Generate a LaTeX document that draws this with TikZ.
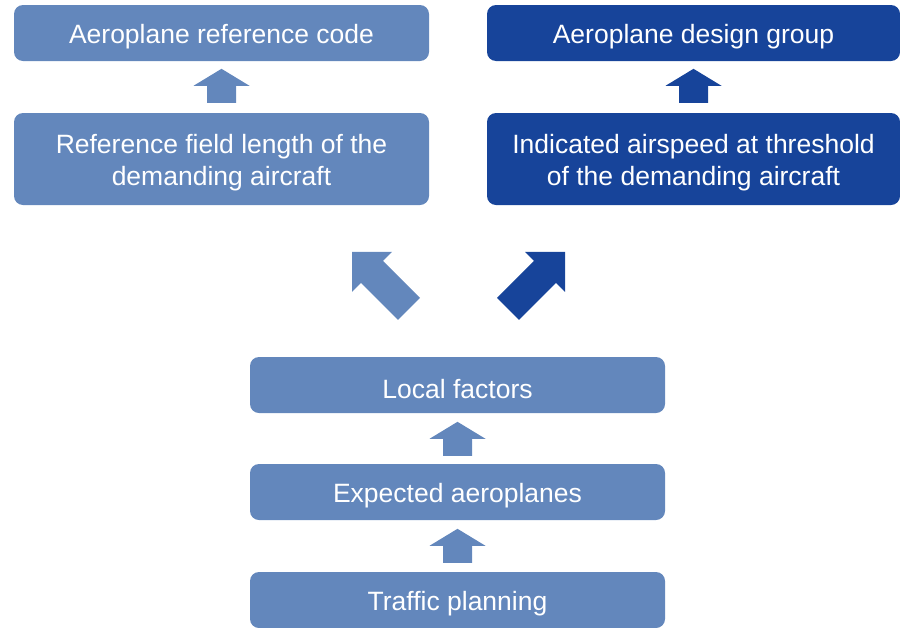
\documentclass[tikz,border=0pt]{standalone}
\usepackage{fontspec}
\setmainfont{Liberation Sans}
\usetikzlibrary{calc}
\definecolor{lightblue}{RGB}{99,135,188}
\definecolor{darkblue}{RGB}{23,68,154}
\begin{document}
\begin{tikzpicture}[x=1pt,y=-1pt,
  box/.style={rounded corners=9pt, inner sep=0pt, minimum width=415pt},
  wide/.style={box, minimum width=413pt},
  boxtext/.style={text=white, align=center, inner sep=0pt, yshift=-4pt,
    font=\fontsize{26.5}{32}\selectfont},
  light/.style={fill=lightblue},
  dark/.style={fill=darkblue},
  % short block arrow, origin at the middle of its foot, pointing up
  uparrow/.pic={\path[pic actions] (-14.5,0) -- (-14.5,-17) -- (-28,-17) -- (0,-34)
      -- (28,-17) -- (14.5,-17) -- (14.5,0) -- cycle;},
  % diagonal block arrow, origin at its tip, pointing up-left
  diagarrow/.pic={\path[pic actions] (0,0) -- (40,0) -- (31,9) -- (68,46) -- (46,68)
      -- (9,31) -- (0,40) -- cycle;}
]
\useasboundingbox (0,0) rectangle (900,627);

% left column
\node[box, light, minimum height=56pt,
  label={[boxtext]center:Aeroplane reference code}] (code) at (221.5,33) {};
\node[box, light, minimum height=92pt,
  label={[boxtext]center:Reference field length of the\\demanding aircraft}] (field) at (221.5,159) {};

% right column
\node[wide, dark, minimum height=56pt,
  label={[boxtext]center:Aeroplane design group}] (group) at (693.5,33) {};
\node[wide, dark, minimum height=92pt,
  label={[boxtext]center:Indicated airspeed at threshold\\of the demanding aircraft}] (speed) at (693.5,159) {};

% bottom stack
\node[box, light, minimum height=56pt,
  label={[boxtext]center:Local factors}] (local) at (457.5,385) {};
\node[box, light, minimum height=56pt,
  label={[boxtext]center:Expected aeroplanes}] (expected) at (457.5,492) {};
\node[box, light, minimum height=56pt,
  label={[boxtext]center:Traffic planning}] (traffic) at (457.5,600) {};

% block arrows between the boxes
\pic[light] at ($(field.north)+(0,-10)$) {uparrow};
\pic[dark] at ($(speed.north)+(0,-10)$) {uparrow};
\pic[light] at ($(expected.north)+(0,-8)$) {uparrow};
\pic[light] at ($(traffic.north)+(0,-9)$) {uparrow};
\pic[light] at ($(local.north)+(-105.5,-105)$) {diagarrow};
\pic[dark, xscale=-1] at ($(local.north)+(107.5,-105)$) {diagarrow};
\end{tikzpicture}
\end{document}
